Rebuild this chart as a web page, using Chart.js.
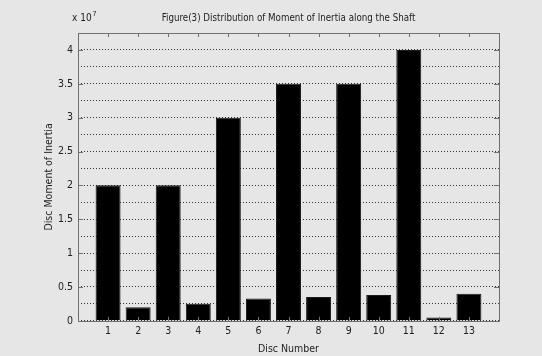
<!DOCTYPE html>
<html>
<head>
<meta charset="utf-8">
<script src="https://cdn.jsdelivr.net/npm/chart.js@4"></script>
<style>
  html, body { margin: 0; padding: 0; background: #e6e6e6; }
  #wrap { width: 542px; height: 356px; }
</style>
</head>
<body>
<div id="wrap"><canvas id="inertiaChart" width="542" height="356"></canvas></div>
<script>
// Disc numbers along the shaft and their moment of inertia
const discs = [1, 2, 3, 4, 5, 6, 7, 8, 9, 10, 11, 12, 13];
const inertia = [2.0e7, 0.2e7, 2.0e7, 0.25e7, 3.0e7, 0.33e7, 3.5e7, 0.35e7, 3.5e7, 0.38e7, 4.0e7, 0.05e7, 0.4e7];
const yTicks = [0, 0.5, 1, 1.5, 2, 2.5, 3, 3.5, 4];
const yScaleFactor = 1e7;
const chartTitle = 'Figure(3) Distribution of Moment of Inertia along the Shaft';

const FONT = '"DejaVu Sans Condensed", "Liberation Sans Narrow", "Liberation Sans", Arial, sans-serif';
const TEXT = '#222';
const AXIS = '#707070';

// MATLAB style box, inner tick marks, title and the "x 10^7" exponent label
const matlabAxes = {
    id: 'matlabAxes',
    afterDatasetsDraw(chart) {
        const { ctx, chartArea: a, scales } = chart;
        ctx.save();
        ctx.strokeStyle = AXIS;
        ctx.lineWidth = 1;
        ctx.setLineDash([]);
        ctx.beginPath();
        discs.forEach(d => {
            const x = Math.round(scales.x.getPixelForValue(d)) + 0.5;
            ctx.moveTo(x, a.top); ctx.lineTo(x, a.top + 4);
            ctx.moveTo(x, a.bottom); ctx.lineTo(x, a.bottom - 4);
        });
        yTicks.forEach(t => {
            const y = Math.round(scales.y.getPixelForValue(t * yScaleFactor)) + 0.5;
            ctx.moveTo(a.left, y); ctx.lineTo(a.left + 5, y);
            ctx.moveTo(a.right, y); ctx.lineTo(a.right - 5, y);
        });
        ctx.stroke();
        ctx.strokeRect(Math.round(a.left) + 0.5, Math.round(a.top) + 0.5,
            Math.round(a.right - a.left), Math.round(a.bottom - a.top));

        ctx.fillStyle = TEXT;
        ctx.textBaseline = 'middle';
        ctx.textAlign = 'center';
        ctx.font = '9.7px ' + FONT;
        ctx.fillText(chartTitle, (a.left + a.right) / 2, 18);

        ctx.textBaseline = 'alphabetic';
        ctx.textAlign = 'left';
        ctx.font = '10px ' + FONT;
        ctx.fillText('x 10', a.left - 6, a.top - 12);
        const w = ctx.measureText('x 10').width;
        ctx.font = '7px ' + FONT;
        ctx.fillText('7', a.left - 6 + w + 1, a.top - 17);
        ctx.restore();
    }
};

const ctx = document.getElementById('inertiaChart').getContext('2d');
new Chart(ctx, {
    type: 'bar',
    data: {
        datasets: [{
            label: 'Disc Moment of Inertia',
            data: discs.map((d, i) => ({ x: d, y: inertia[i] })),
            backgroundColor: '#000000',
            borderColor: '#1a1a1a',
            borderWidth: 1,
            barPercentage: 0.83,
            categoryPercentage: 1.0
        }]
    },
    options: {
        responsive: false,
        animation: false,
        layout: { padding: { left: 43, right: 43, top: 33, bottom: 0 } },
        plugins: {
            legend: { display: false },
            tooltip: { enabled: false },
            title: { display: false }
        },
        scales: {
            x: {
                type: 'linear',
                offset: false,
                min: 0,
                max: 14,
                grid: { display: false, drawTicks: false },
                border: { display: false },
                ticks: {
                    stepSize: 1,
                    padding: 4,
                    color: TEXT,
                    font: { family: FONT, size: 10.5 },
                    callback: v => discs.includes(v) ? String(v) : ''
                },
                title: {
                    display: true,
                    text: 'Disc Number',
                    color: TEXT,
                    font: { family: FONT, size: 10.5 },
                    padding: { top: 2, bottom: 0 }
                }
            },
            y: {
                min: 0,
                max: 4.25e7,
                grid: { color: '#333333', lineWidth: 1, drawTicks: false },
                border: { display: false, dash: [1, 2] },
                afterFit: scale => { scale.width = 35; },
                ticks: {
                    stepSize: 0.25e7,
                    padding: 5,
                    color: TEXT,
                    font: { family: FONT, size: 10.5 },
                    callback: v => {
                        const t = Math.round(v / yScaleFactor * 100) / 100;
                        return yTicks.includes(t) ? String(t) : '';
                    }
                },
                title: {
                    display: true,
                    text: 'Disc Moment of Inertia',
                    color: TEXT,
                    font: { family: FONT, size: 10.5 },
                    padding: { top: 0, bottom: 0 }
                }
            }
        }
    },
    plugins: [matlabAxes]
});
</script>
</body>
</html>
